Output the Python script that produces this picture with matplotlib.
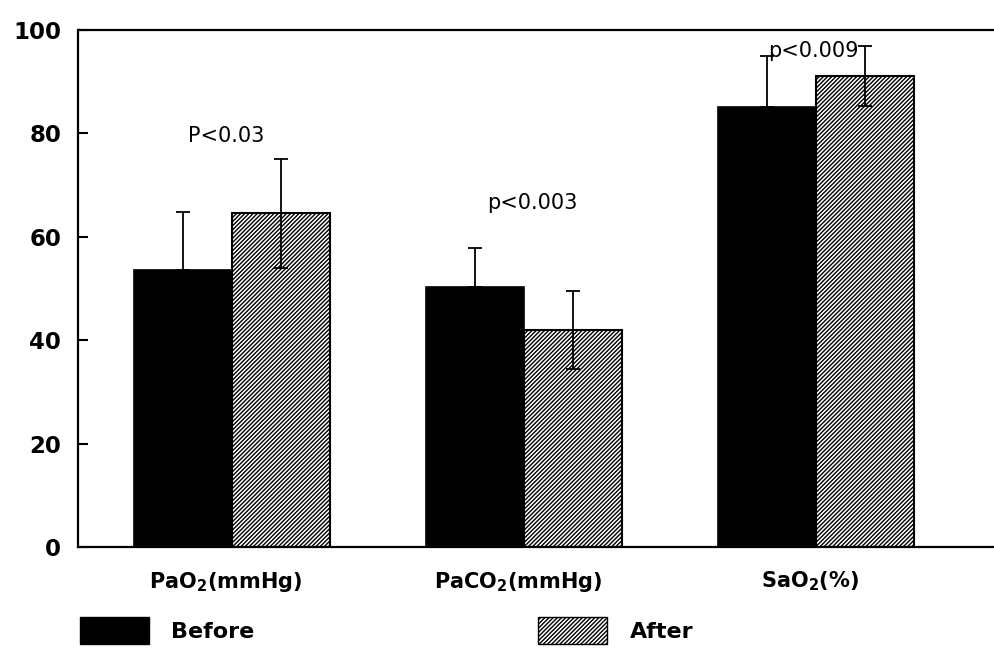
import numpy as np
import matplotlib
matplotlib.use('Agg')
import matplotlib.pyplot as plt
from matplotlib.patches import Patch

# values
groups = [r'PaO$_\mathbf{2}$(mmHg)', r'PaCO$_\mathbf{2}$(mmHg)', r'SaO$_\mathbf{2}$(%)']
before = [53.5, 50.3, 85.0]
before_err = [11.3, 7.6, 9.8]
after = [64.5, 42.0, 91.0]
after_err = [10.5, 7.5, 5.8]
p_labels = ['P<0.03', 'p<0.003', 'p<0.009']
p_y = [79.5, 66.5, 95.8]
p_x = [-0.02, 0.03, -0.01]

plt.rcParams['hatch.linewidth'] = 1.0
fig = plt.figure(figsize=(9.94, 6.57), dpi=100)
ax = fig.add_axes([0.0785, 0.167, 0.9215, 0.788])

x = np.arange(len(groups))
w = 0.336
ax.bar(x - w / 2, before, w, color='black', edgecolor='black', linewidth=1.2,
       yerr=[[0] * 3, before_err], capsize=5,
       error_kw=dict(ecolor='black', elinewidth=1.3, capthick=1.3))
ax.bar(x + w / 2, after, w, color='white', edgecolor='black', linewidth=1.5,
       hatch='////////', yerr=after_err, capsize=5,
       error_kw=dict(ecolor='black', elinewidth=1.3, capthick=1.3))

for i, t in enumerate(p_labels):
    ax.text(i + p_x[i], p_y[i], t, ha='center', va='center', fontsize=15)

ax.set_xlim(-0.527, 2.61)
ax.set_ylim(0, 100)
ax.set_yticks([0, 20, 40, 60, 80, 100])
ax.tick_params(axis='y', direction='in', length=7, width=1.5, pad=12,
               labelsize=16.5)
for lab in ax.get_yticklabels():
    lab.set_fontweight('bold')
ax.set_xticks(x - 0.02)
ax.set_xticklabels(groups, fontsize=15, fontweight='bold')
ax.tick_params(axis='x', length=0, pad=16)
ax.spines['right'].set_visible(False)
for s in ['left', 'top', 'bottom']:
    ax.spines[s].set_linewidth(1.6)

handles = [Patch(facecolor='black', edgecolor='black', label='Before'),
           Patch(facecolor='white', edgecolor='black', hatch='////////', label='After')]
leg = fig.legend(handles=handles, loc='center left', bbox_to_anchor=(0.06, 0.04),
                 ncol=2, frameon=False, handlelength=3.1, handleheight=1.5,
                 handletextpad=1.0, columnspacing=12.8,
                 prop=dict(size=16, weight='bold'))

fig.savefig('out.png', dpi=100)
